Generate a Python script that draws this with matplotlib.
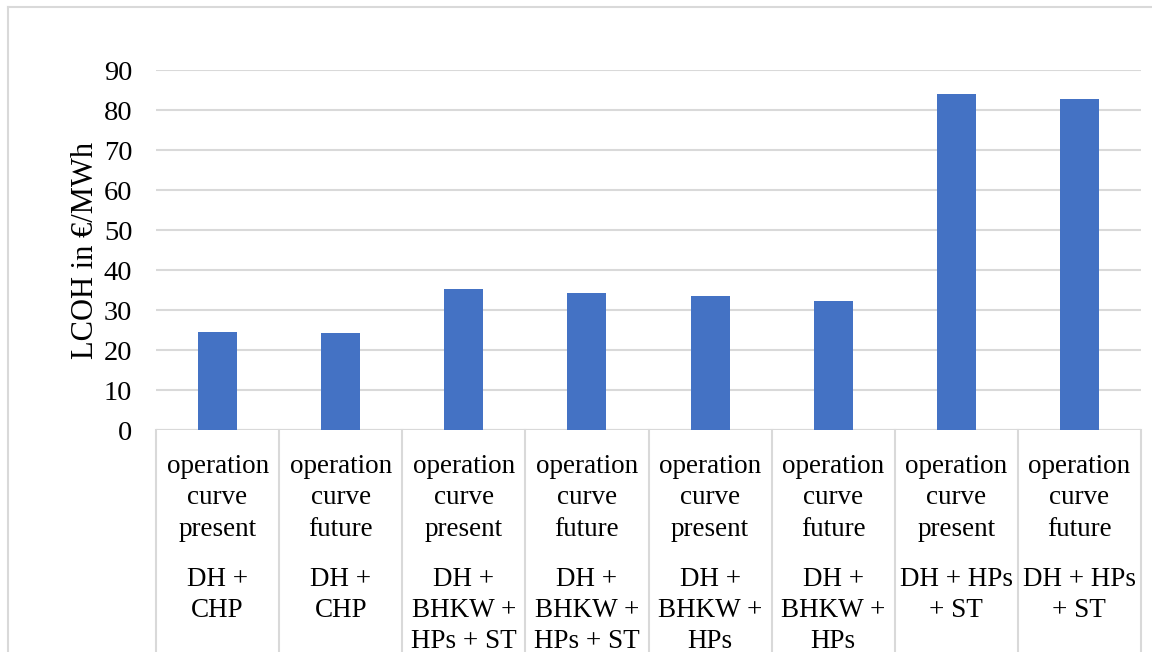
import matplotlib
matplotlib.use("Agg")
import matplotlib.pyplot as plt
from matplotlib.lines import Line2D

# Data
operation_curve = ["present", "future", "present", "future",
                   "present", "future", "present", "future"]
systems = ["DH +\nCHP", "DH +\nCHP",
           "DH +\nBHKW +\nHPs + ST", "DH +\nBHKW +\nHPs + ST",
           "DH +\nBHKW +\nHPs", "DH +\nBHKW +\nHPs",
           "DH + HPs\n+ ST", "DH + HPs\n+ ST"]
lcoh = [24.4, 24.2, 35.2, 34.3, 33.6, 32.3, 83.9, 82.8]
y_ticks = [0, 10, 20, 30, 40, 50, 60, 70, 80, 90]

W, H = 1152, 652
DPI = 100
plt.rcParams['font.family'] = ['Liberation Serif', 'DejaVu Serif']
FS = 19.5
BAR = "#4472C4"
GRID = "#D9D9D9"

fig = plt.figure(figsize=(W / DPI, H / DPI), dpi=DPI)
left_px, right_px, top_px, bottom_px = 156, 1141, 70, 430
ax = fig.add_axes([left_px / W, (H - bottom_px) / H,
                   (right_px - left_px) / W, (bottom_px - top_px) / H])

n = len(lcoh)
x = list(range(n))
ax.bar(x, lcoh, width=0.317, color=BAR, zorder=3)

ax.set_xlim(-0.5, n - 0.5)
ax.set_ylim(0, 90)
ax.set_yticks(y_ticks)
ax.set_yticklabels([str(t) for t in y_ticks], fontsize=20.5)
ax.tick_params(axis='y', length=0, pad=17)
ax.set_xticks([])
for s in ax.spines.values():
    s.set_visible(False)
ax.grid(axis='y', color=GRID, linewidth=1.5, zorder=0)
ax.axhline(0, color=GRID, linewidth=1.5, zorder=1)

ax.set_ylabel("LCOH in €/MWh", fontsize=22, labelpad=3)

# Category separators below the axis
ax_h = bottom_px - top_px
sep_bottom = -(H - bottom_px) / ax_h
xt = ax.get_xaxis_transform()
for k in range(n + 1):
    ax.plot([k - 0.5, k - 0.5], [0, sep_bottom], transform=xt,
            color=GRID, linewidth=1.5, clip_on=False, zorder=1)

# Two-level category labels
y1 = -(454 - bottom_px) / ax_h
y2 = -(567 - bottom_px) / ax_h
for i in range(n):
    ax.text(i, y1, "operation\ncurve\n" + operation_curve[i], transform=xt,
            ha='center', va='top', fontsize=FS, linespacing=1.33)
    ax.text(i, y2, systems[i], transform=xt,
            ha='center', va='top', fontsize=FS, linespacing=1.31)

# Chart area border
fig.add_artist(Line2D([8 / W, 1.0], [1 - 7 / H, 1 - 7 / H],
                      transform=fig.transFigure, color=GRID, linewidth=1.5))
fig.add_artist(Line2D([8 / W, 8 / W], [0, 1 - 7 / H],
                      transform=fig.transFigure, color=GRID, linewidth=1.5))

fig.savefig("out.png", dpi=DPI)
